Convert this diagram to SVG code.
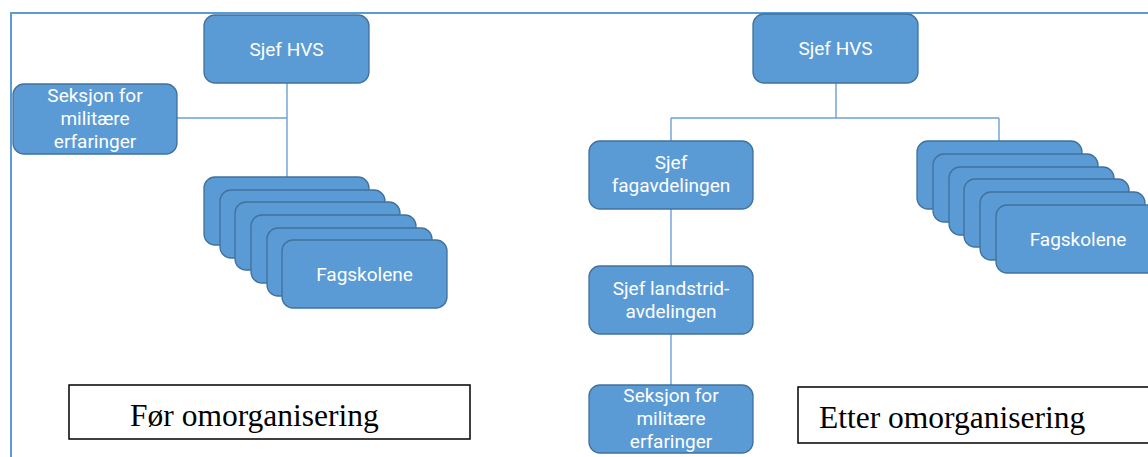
<svg xmlns="http://www.w3.org/2000/svg" width="1148" height="457" viewBox="0 0 1148 457">
  <style>
    .box { fill: #5b9bd5; stroke: #41719c; stroke-width: 1.3; }
    .t { font-family: Roboto, "Liberation Sans", sans-serif; font-size: 19px; fill: #ffffff; text-anchor: middle; }
    .conn { stroke: #6a9fd6; stroke-width: 1.4; fill: none; }
    .frame { stroke: #5b9bd5; stroke-width: 2; fill: none; }
    .cap { fill: #ffffff; stroke: #000000; stroke-width: 1.5; }
    .capt { font-family: "Liberation Serif", "Times New Roman", serif; font-size: 31.5px; fill: #000000; }
  </style>
  <rect x="0" y="0" width="1148" height="457" fill="#ffffff"/>
  <g id="frame">
    <path class="frame" d="M11 457 V13 H1148"/>
  </g>
  <g id="connectors">
    <path class="conn" d="M287 83 V177"/>
    <path class="conn" d="M177 118 H287"/>
    <path class="conn" d="M836 83 V118"/>
    <path class="conn" d="M671 118 H999"/>
    <path class="conn" d="M671 118 V141"/>
    <path class="conn" d="M999 118 V141"/>
    <path class="conn" d="M671 209 V266"/>
    <path class="conn" d="M671 334 V385"/>
  </g>
  <g id="left-sjef-hvs">
    <rect class="box" x="204" y="15" width="165" height="68" rx="11"/>
    <text class="t" x="286.5" y="56">Sjef HVS</text>
  </g>
  <g id="left-seksjon">
    <rect class="box" x="13" y="84" width="164" height="70" rx="11"/>
    <text class="t" x="95" y="102">Seksjon for<tspan x="95" dy="23">militære</tspan><tspan x="95" dy="23">erfaringer</tspan></text>
  </g>
  <g id="left-fagskolene">
    <rect class="box" x="204" y="177" width="165" height="68" rx="11"/>
    <rect class="box" x="220" y="190" width="165" height="68" rx="11"/>
    <rect class="box" x="235" y="202" width="165" height="68" rx="11"/>
    <rect class="box" x="251" y="215" width="165" height="68" rx="11"/>
    <rect class="box" x="267" y="228" width="165" height="68" rx="11"/>
    <rect class="box" x="282" y="240" width="165" height="68" rx="11"/>
    <text class="t" x="364.5" y="281">Fagskolene</text>
  </g>
  <g id="right-sjef-hvs">
    <rect class="box" x="753" y="14" width="165" height="69" rx="11"/>
    <text class="t" x="835.5" y="55">Sjef HVS</text>
  </g>
  <g id="right-sjef-fagavdelingen">
    <rect class="box" x="589" y="141" width="164" height="68" rx="11"/>
    <text class="t" x="671" y="169">Sjef<tspan x="671" dy="23">fagavdelingen</tspan></text>
  </g>
  <g id="right-sjef-landstrid">
    <rect class="box" x="589" y="266" width="164" height="68" rx="11"/>
    <text class="t" x="671" y="294.5">Sjef landstrid-<tspan x="671" dy="23">avdelingen</tspan></text>
  </g>
  <g id="right-seksjon">
    <rect class="box" x="589" y="385" width="164" height="68" rx="11"/>
    <text class="t" x="671" y="402">Seksjon for<tspan x="671" dy="23">militære</tspan><tspan x="671" dy="23">erfaringer</tspan></text>
  </g>
  <g id="right-fagskolene">
    <rect class="box" x="917" y="141" width="165" height="68" rx="11"/>
    <rect class="box" x="933" y="154" width="165" height="68" rx="11"/>
    <rect class="box" x="949" y="167" width="165" height="68" rx="11"/>
    <rect class="box" x="964" y="179" width="165" height="68" rx="11"/>
    <rect class="box" x="980" y="192" width="165" height="68" rx="11"/>
    <rect class="box" x="996" y="205" width="165" height="68" rx="11"/>
    <text class="t" x="1078" y="246">Fagskolene</text>
  </g>
  <g id="caption-before">
    <rect class="cap" x="69" y="385" width="401" height="54"/>
    <text class="capt" x="130" y="426">Før omorganisering</text>
  </g>
  <g id="caption-after">
    <rect class="cap" x="798" y="387" width="360" height="56"/>
    <text class="capt" x="819" y="428">Etter omorganisering</text>
  </g>
</svg>
